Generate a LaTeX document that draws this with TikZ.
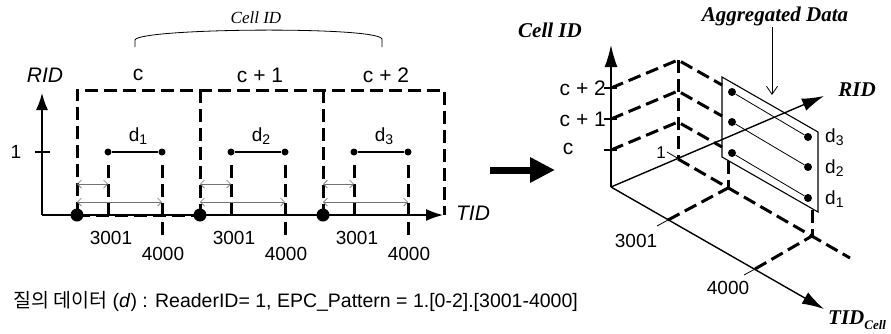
\documentclass[tikz,border=0pt]{standalone}
\usepackage{fontspec}
\setmainfont{Liberation Sans}
\newfontfamily\tms{Liberation Serif}
\newfontfamily\krf{Noto Sans CJK KR}
\usetikzlibrary{arrows.meta}
\begin{document}
\begin{tikzpicture}[x=1pt,y=-1pt,
  dsh/.style={line width=3pt, dash pattern=on 13pt off 6pt},
  ax/.style={line width=1.4pt, -{Latex[length=17pt,width=12pt]}},
  axc/.style={line width=1.4pt, -{Latex[length=22pt,width=13pt]}},
  tharrow/.style={black!55, line width=0.7pt, {Straight Barb[length=4pt,width=8pt]}-{Straight Barb[length=4pt,width=8pt]}},
  sdot/.style={circle, fill, inner sep=0pt, minimum size=7pt},
  tdot/.style={circle, fill, inner sep=0pt, minimum size=8pt},
  bdot/.style={circle, fill, inner sep=0pt, minimum size=13pt},
  lbl/.style={font=\fontsize{19}{22}\selectfont, inner sep=0pt},
  big/.style={font=\fontsize{21}{25}\selectfont, inner sep=0pt},
  ser/.style={font=\fontsize{21}{25}\selectfont\tms\bfseries\itshape, inner sep=0pt},
]
\useasboundingbox (0,0) rectangle (891,333);

% ---------------- left diagram ----------------
\coordinate (O) at (42,215);
\coordinate (Ytop) at (42,93);
\coordinate (Xend) at (443,215);
\coordinate (t1a) at (35,152);
\coordinate (t1b) at (50,152);
\draw[ax] (O) -- (Ytop);
\draw[ax] (O) -- (Xend);
\draw[line width=1.2pt] (t1a) -- (t1b);
\node[lbl] (one) at (16,152) {1};
\node[inner sep=0pt, font=\fontsize{21}{25}\selectfont\itshape] (rid) at (45,75) {RID};
\node[inner sep=0pt, font=\fontsize{21}{25}\selectfont\itshape] (tid) at (473,213) {TID};

% dashed cells
\coordinate (c0b) at (77,215);  \coordinate (c0t) at (77,90);
\coordinate (c1b) at (200,215); \coordinate (c1t) at (200,90);
\coordinate (c2b) at (323,215); \coordinate (c2t) at (323,90);
\coordinate (c3b) at (444,215); \coordinate (c3t) at (444,90);
\draw[dsh] (c0b) -- (c0t) -- (c3t) -- (c3b);
\draw[dsh] (c1t) -- (c1b);
\draw[dsh] (c2t) -- (c2b);
\draw[dsh] (c0b) -- (c1b);

\node[big] (lc0) at (138,75) {c};
\node[big] (lc1) at (260,75) {c + 1};
\node[big] (lc2) at (386,75) {c + 2};

% brace + Cell ID
\coordinate (brL) at (135,47);
\coordinate (brR) at (382,47);
\draw[line width=0.8pt] (brL) -- (135,40) .. controls (138,28) and (378,26) .. (382,39) -- (brR);
\node[inner sep=0pt, font=\fontsize{17}{20}\selectfont\tms\itshape] (cellidl) at (256,18) {Cell ID};

\foreach \i/\s in {0/1,1/2,2/3}{
\begin{scope}[xshift={123*\i}]
  \coordinate (u\i) at (108,165);
  \coordinate (ub\i) at (108,215);
  \coordinate (v\i) at (162,165);
  \coordinate (vb\i) at (162,235);
  \draw[dsh] (u\i) -- (ub\i);
  \draw[dsh] (v\i) -- (vb\i);
  \coordinate (ha\i) at (77,184);
  \coordinate (hb\i) at (108,184);
  \coordinate (ka\i) at (77,202);
  \coordinate (kb\i) at (162,202);
  \draw[tharrow] (ha\i) -- (hb\i);
  \draw[tharrow] (ka\i) -- (kb\i);
  \node[sdot] (L\i) at (108,152) {};
  \node[sdot] (R\i) at (162,152) {};
  \draw[line width=1.3pt] (L\i) -- (R\i);
  \node[lbl] (dl\i) at (138,136) {d\raisebox{-3pt}{\fontsize{14}{14}\selectfont\s}};
  \node[bdot] (B\i) at (77,215) {};
  \node[lbl] (n3\i) at (111,238) {3001};
  \node[lbl] (n4\i) at (163,254) {4000};
\end{scope}
}

% big arrow
\coordinate (ar1) at (490,170);
\coordinate (ar2) at (555,170);
\draw[line width=7pt, -{Triangle[length=25pt,width=24pt]}] (ar1) -- (ar2);

% bottom text
\node[anchor=west, inner sep=0pt, font=\fontsize{19.5}{22}\selectfont] (query) at (13,301)
  {{\krf 질의 데이터} (\textit{d}) : ReaderID= 1, EPC\_Pattern = 1.[0-2].[3001-4000]};

% ---------------- right 3D diagram ----------------
\coordinate (Q) at (611,187);
\coordinate (Qc) at (611,45);
\coordinate (Qt) at (824,309);
\coordinate (Qr) at (824,96);

% dashed structure
\coordinate (k2) at (611,88);
\coordinate (k1) at (611,119);
\coordinate (k0) at (611,150);
\coordinate (P2) at (678,60);
\coordinate (P1) at (678,91);
\coordinate (P0) at (678,122);
\coordinate (R1) at (678,159);
\coordinate (E2) at (722,85);
\coordinate (E1) at (722,116);
\coordinate (E0) at (722,147);
\coordinate (Rend) at (850,258);
\draw[dsh] (k2) -- (P2) -- (E2);
\draw[dsh] (k1) -- (P1) -- (E1);
\draw[dsh] (k0) -- (P0) -- (E0);
\draw[dsh] (P2) -- (R1);
\draw[dsh] (R1) -- (Rend);
\coordinate (F3a) at (668,220);
\coordinate (F3b) at (728,188);
\coordinate (F4a) at (755,269);
\coordinate (F4b) at (812,236);
\coordinate (G3) at (728,161);
\coordinate (G4) at (812,210);
\draw[dsh] (F3a) -- (F3b);
\draw[dsh] (F4a) -- (F4b);
\draw[dsh] (G3) -- (F3b);
\draw[dsh] (G4) -- (F4b);

% axes
\draw[axc] (Q) -- (Qc);
\draw[axc] (Q) -- (Qt);
\draw[axc] (Q) -- (Qr);

% ticks
\foreach \y/\n in {88/2,119/1,150/0}{
  \coordinate (ta\n) at (604,\y);
  \coordinate (tb\n) at (617,\y);
  \draw[line width=1.2pt] (ta\n) -- (tb\n);
}
\node[big, anchor=east] (cc2) at (606,88) {c + 2};
\node[big, anchor=east] (cc1) at (606,119) {c + 1};
\node[big] (cc0) at (568,149) {c};
\coordinate (r1a) at (667,152);
\coordinate (r1b) at (689,165);
\draw[line width=0.8pt] (r1a) -- (r1b);
\node[inner sep=0pt, font=\fontsize{17}{19}\selectfont] (rone) at (661,153) {1};
\coordinate (s3a) at (657,226);
\coordinate (s3b) at (679,214);
\coordinate (s4a) at (744,275);
\coordinate (s4b) at (766,263);
\draw[line width=0.8pt] (s3a) -- (s3b);
\draw[line width=0.8pt] (s4a) -- (s4b);
\node[lbl] (l3001) at (636,241) {3001};
\node[lbl] (l4000) at (728,288) {4000};

% aggregated plane
\coordinate (A1) at (722,77);
\coordinate (A2) at (818,132);
\coordinate (A3) at (818,212);
\coordinate (A4) at (722,157);
\draw[line width=1.1pt] (A1) -- (A2) -- (A3) -- (A4) -- cycle;
\node[tdot] (dl3) at (732,92) {};
\node[tdot] (dr3) at (808,137) {};
\node[tdot] (dl2) at (732,122) {};
\node[tdot] (dr2) at (808,167) {};
\node[tdot] (dl1) at (732,153) {};
\node[tdot] (dr1) at (808,198) {};
\draw[line width=0.8pt] (dl3) -- (dr3);
\draw[line width=0.8pt] (dl2) -- (dr2);
\draw[line width=0.8pt] (dl1) -- (dr1);
\node[lbl, anchor=west] (ld3) at (825,137) {d\raisebox{-3pt}{\fontsize{14}{14}\selectfont 3}};
\node[lbl, anchor=west] (ld2) at (825,168) {d\raisebox{-3pt}{\fontsize{14}{14}\selectfont 2}};
\node[lbl, anchor=west] (ld1) at (825,199) {d\raisebox{-3pt}{\fontsize{14}{14}\selectfont 1}};

% labels
\node[ser] (agg) at (775,16) {Aggregated Data};
\coordinate (aggtip) at (772,95);
\draw[line width=0.8pt, -{Straight Barb[length=8pt,width=11pt]}] (772,27) -- (aggtip);
\node[ser] (cellid) at (550,30) {Cell ID};
\node[ser] (ridr) at (857,90) {RID};
\node[ser, anchor=west] (tidc) at (828,320) {TID\raisebox{-5pt}{\fontsize{13}{13}\selectfont Cell}};
\end{tikzpicture}
\end{document}
